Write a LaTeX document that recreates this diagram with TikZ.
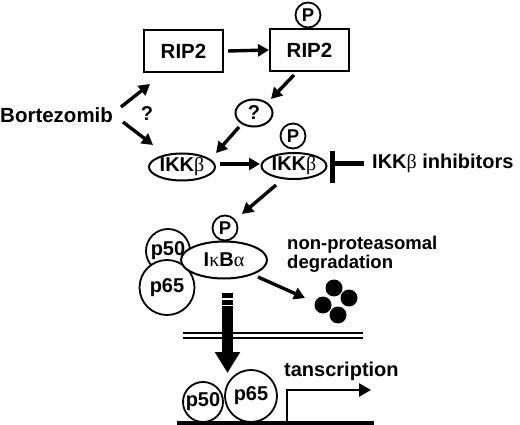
\documentclass[tikz,border=0pt]{standalone}
\usepackage{fontspec}
\setmainfont{Liberation Sans}
\newfontfamily\grk{Liberation Serif}
\usetikzlibrary{arrows.meta,shapes.geometric}
\begin{document}
\begin{tikzpicture}[x=1pt,y=-1pt,
  lbl/.style={font=\fontsize{20}{22}\selectfont\bfseries, inner sep=0pt},
  boxn/.style={draw, line width=2pt, minimum width=79pt, minimum height=42pt, font=\fontsize{20.5}{22}\selectfont\bfseries},
  ell/.style={draw, ellipse, line width=2pt, fill=white, inner sep=0pt, font=\fontsize{20}{22}\selectfont\bfseries},
  circ/.style={draw, circle, line width=1.8pt, fill=white, inner sep=0pt, font=\fontsize{20}{22}\selectfont\bfseries},
  phos/.style={draw, circle, line width=1.8pt, fill=white, inner sep=0pt, minimum size=25pt, font=\fontsize{18.5}{20}\selectfont\bfseries},
  arr/.style={line width=3.4pt, -{Triangle[length=11pt,width=12pt]}},
  dot/.style={circle, fill=black, minimum size=17pt, inner sep=0pt}
]
\useasboundingbox (0,0) rectangle (520,425);
% top row
\node[boxn] (rip1) at (183.5,51) {RIP2};
\node[boxn] (rip2) at (309.5,50) {RIP2};
\node[phos] (p1) at (308,15) {P};
\draw[arr] (rip1.east) ++(4,0) coordinate (a1) (a1) -- (rip2.west);
% Bortezomib
\node[inner sep=0pt, font=\fontsize{20.5}{22}\selectfont\bfseries, anchor=west] (bort) at (0,115) {Bortezomib};
\coordinate (b1s) at (121,107);
\coordinate (b1e) at (150,84);
\coordinate (b2s) at (123,122);
\coordinate (b2e) at (153,145);
\draw[arr] (b1s) -- (b1e);
\draw[arr] (b2s) -- (b2e);
\node[lbl] (qm) at (147,114) {?};
% ? ellipse
\node[ell, minimum width=37pt, minimum height=27pt] (q) at (254,113) {?};
\coordinate (r2a) at (294,75);
\draw[arr] (r2a) -- (271,99) coordinate (r2b);
% IKKb
\node[ell, minimum width=66pt, minimum height=27pt] (ikk1) at (182,167) {IKK{\grk\mdseries β}};
\node[ell, minimum width=65pt, minimum height=26pt] (ikk2) at (294,166) {IKK{\grk\mdseries β}};
\node[phos] (p2) at (293,136) {P};
\coordinate (qa) at (239,127);
\draw[arr] (qa) -- (216,153) coordinate (qb);
\coordinate (ia) at (220,164);
\draw[arr] (ia) -- (260,164) coordinate (ib);
% inhibitor
\node[lbl, anchor=west] (inh) at (372,163) {IKK{\grk\mdseries β} inhibitors};
\draw[line width=5pt] (364,164) -- (333,164);
\draw[line width=5pt] (332.5,151) -- (332.5,183);
% arrow to IkBa
\coordinate (ka) at (276,185);
\draw[arr] (ka) -- (242,214) coordinate (kb);
% complex
\node[circ, minimum size=44pt] (p50a) at (168,251) {p50};
\node[circ, minimum size=55pt] (p65a) at (167,287.5) {p65};
\node[ell, minimum width=86pt, minimum height=37pt] (ikba) at (224,260) {I{\grk\mdseries κ}B{\grk\mdseries α}};
\node[phos] (p3) at (225,228) {P};
% degradation
\node[font=\fontsize{18.5}{19}\selectfont\bfseries, anchor=north west, align=left, inner sep=0pt] (deg) at (287,236) {non-proteasomal\\degradation};
\coordinate (da) at (258,277);
\draw[arr] (da) -- (305,298) coordinate (db);
\node[dot] (d1) at (334,288) {};
\node[dot] (d2) at (349,298) {};
\node[dot] (d3) at (323,305) {};
\node[dot] (d4) at (338,315) {};
% thick arrow
\coordinate (ta) at (227.5,293);
\coordinate (tb) at (227.5,373);
\draw[line width=11pt, -{Triangle[length=21pt,width=24pt]}] (ta) -- (tb);
\draw[white, line width=1.5pt] (221,299) -- (234,299);
\draw[white, line width=1.2pt] (221,305.5) -- (234,305.5);
% membrane
\draw[line width=1.8pt] (183,333) -- (363,333);
\draw[line width=1.8pt] (183,338) -- (363,338);
% bottom
\node[circ, minimum size=40pt] (p50b) at (203,402) {p50};
\node[circ, minimum size=52pt] (p65b) at (251,396) {p65};
\draw[line width=3.5pt] (177,423) -- (374,423);
\coordinate (tsa) at (287,423);
\draw[line width=2.6pt, -{Triangle[length=12pt,width=13pt]}] (tsa) -- (287,390) -- (371,390) coordinate (tsb);
\node[lbl, anchor=west] (trans) at (284,371) {tanscription};
\end{tikzpicture}
\end{document}
